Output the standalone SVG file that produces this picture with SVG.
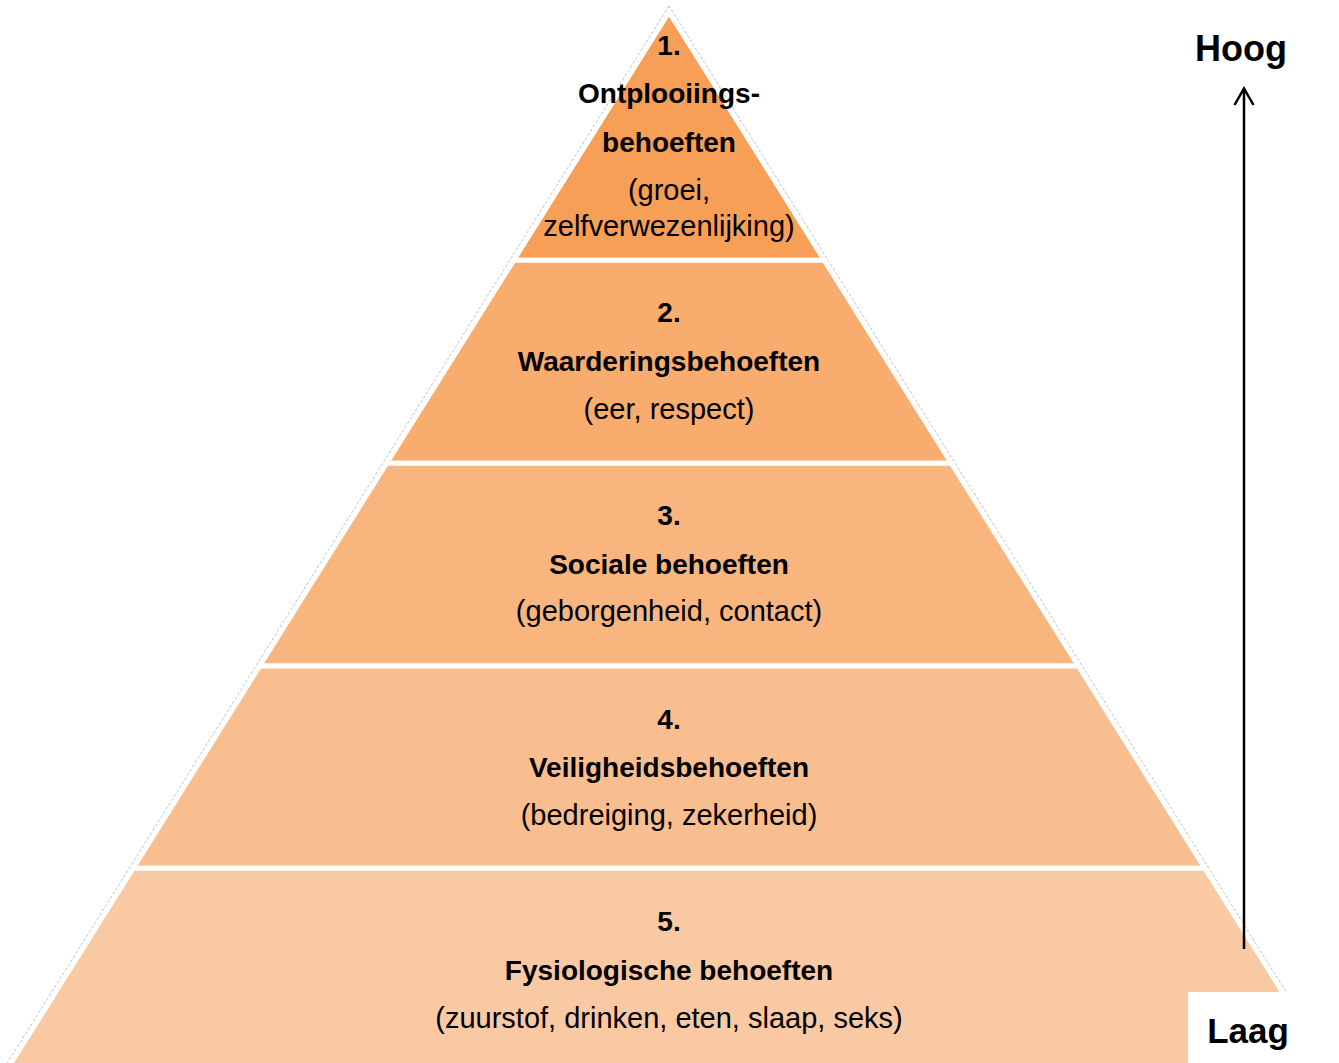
<svg xmlns="http://www.w3.org/2000/svg" width="1339" height="1063" viewBox="0 0 1339 1063">
<style>
  text { font-family: "Liberation Sans", Arial, sans-serif; fill: #000; text-anchor: middle; }
  .b { font-weight: bold; font-size: 28px; }
  .r { font-size: 29px; }
  .band { stroke: #FFFFFF; stroke-width: 5; stroke-linejoin: miter; }
  .side { font-weight: bold; font-size: 36px; }
</style>
<rect x="0" y="0" width="1339" height="1063" fill="#FFFFFF"/>
<polygon points="669,6 3,1070 1335,1070" fill="none" stroke="#BFBFBF" stroke-width="1" stroke-dasharray="3 2"/>
<g id="level1">
  <polygon class="band" points="669,12 824.4,260.3 513.6,260.3" fill="#F79E57"/>
  <text class="b" x="669" y="55">1.</text>
  <text class="b" x="669" y="103">Ontplooiings-</text>
  <text class="b" x="669" y="152">behoeften</text>
  <text class="r" x="669" y="200">(groei,</text>
  <text class="r" x="669" y="236">zelfverwezenlijking)</text>
</g>
<g id="level2">
  <polygon class="band" points="513.6,260.3 824.4,260.3 951.5,463.3 386.5,463.3" fill="#F8AC6D"/>
  <text class="b" x="669" y="322">2.</text>
  <text class="b" x="669" y="371">Waarderingsbehoeften</text>
  <text class="r" x="669" y="419">(eer, respect)</text>
</g>
<g id="level3">
  <polygon class="band" points="386.5,463.3 951.5,463.3 1078.4,666 259.6,666" fill="#F8B57E"/>
  <text class="b" x="669" y="525">3.</text>
  <text class="b" x="669" y="574">Sociale behoeften</text>
  <text class="r" x="669" y="621">(geborgenheid, contact)</text>
</g>
<g id="level4">
  <polygon class="band" points="259.6,666 1078.4,666 1205,868.3 133,868.3" fill="#F8BE8F"/>
  <text class="b" x="669" y="729">4.</text>
  <text class="b" x="669" y="777">Veiligheidsbehoeften</text>
  <text class="r" x="669" y="825">(bedreiging, zekerheid)</text>
</g>
<g id="level5">
  <polygon class="band" points="133,868.3 1205,868.3 1331.3,1070 6.7,1070" fill="#F9C9A3"/>
  <text class="b" x="669" y="931">5.</text>
  <text class="b" x="669" y="980">Fysiologische behoeften</text>
  <text class="r" x="669" y="1028">(zuurstof, drinken, eten, slaap, seks)</text>
</g>
<g id="connectors">
  <line x1="1244" y1="949" x2="1244" y2="89" stroke="#000" stroke-width="2.5"/>
  <polyline points="1234.5,105 1244,88.5 1253.5,105" fill="none" stroke="#000" stroke-width="2.5"/>
</g>
<g id="hoog">
  <text class="side" x="1241" y="61">Hoog</text>
</g>
<g id="laag">
  <rect x="1188" y="992" width="151" height="71" fill="#FFFFFF"/>
  <text class="side" x="1248" y="1043" style="font-size:35px">Laag</text>
</g>
</svg>
